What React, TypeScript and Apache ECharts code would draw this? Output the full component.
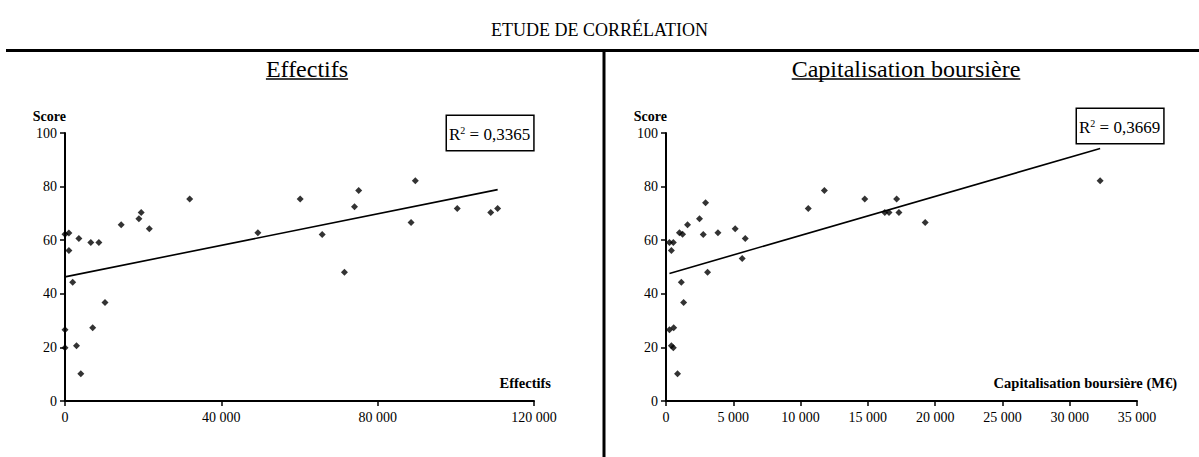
import React, { useEffect, useRef } from "react";
import * as echarts from "echarts";

// Workforce (number of employees) vs score
const effectifsX = [0, 985, 1000, 1970, 3550, 6600, 8670, 10240, 14380, 18900, 19500, 21570, 31900, 49350, 60180, 65800, 71500, 74070, 75150, 88550, 89640, 100370, 108940, 110700, 0, 7090, 0, 2950, 4040];
const effectifsScore = [62.2, 62.7, 56.2, 44.3, 60.6, 59.1, 59.1, 36.8, 65.8, 68.0, 70.3, 64.3, 75.4, 62.8, 75.4, 62.1, 48.0, 72.5, 78.5, 66.6, 82.2, 71.8, 70.3, 71.8, 26.6, 27.3, 19.9, 20.6, 10.2];

// Market capitalisation (M€) vs score
const capitalisationX = [257, 543, 400, 1000, 1230, 1140, 1310, 1600, 2490, 2770, 2940, 3090, 3860, 5140, 5660, 5890, 10570, 11770, 14770, 16260, 16570, 17140, 17310, 19260, 32260, 257, 570, 400, 543, 857];
const capitalisationScore = [59.1, 59.1, 56.2, 62.8, 62.2, 44.3, 36.8, 65.8, 68.0, 62.1, 74.0, 48.0, 62.8, 64.3, 53.2, 60.6, 71.8, 78.5, 75.4, 70.3, 70.3, 75.4, 70.3, 66.6, 82.2, 26.6, 27.3, 20.6, 19.9, 10.2];

const r2Labels = ["0,3365", "0,3669"];
const panelTitles = ["Effectifs", "Capitalisation boursière"];
const xAxisNames = ["Effectifs", "Capitalisation boursière (M€)"];
const yAxisName = "Score";
const mainTitle = "ETUDE DE CORRÉLATION";

const FONT = "'Liberation Serif', 'Times New Roman', serif";

// Least-squares line spanning the data's x range
function trendLine(xs: number[], ys: number[]): number[][] {
  const n = xs.length;
  const mx = xs.reduce((a, b) => a + b, 0) / n;
  const my = ys.reduce((a, b) => a + b, 0) / n;
  let sxy = 0;
  let sxx = 0;
  for (let i = 0; i < n; i++) {
    sxy += (xs[i] - mx) * (ys[i] - my);
    sxx += (xs[i] - mx) * (xs[i] - mx);
  }
  const slope = sxy / sxx;
  const intercept = my - slope * mx;
  const x0 = Math.min(...xs);
  const x1 = Math.max(...xs);
  return [
    [x0, intercept + slope * x0],
    [x1, intercept + slope * x1],
  ];
}

const thousands = (v: number) => String(v).replace(/\B(?=(\d{3})+(?!\d))/g, " ");

function textWidth(text: string, font: string): number {
  const ctx = document.createElement("canvas").getContext("2d");
  if (!ctx) return text.length * 9;
  ctx.font = font;
  return ctx.measureText(text).width;
}

export default function App() {
  const ref = useRef<HTMLDivElement>(null);

  useEffect(() => {
    if (!ref.current) return;
    const chart = echarts.init(ref.current, undefined, { renderer: "svg" });

    const pairs = (xs: number[], ys: number[]) => xs.map((x, i) => [x, ys[i]]);

    const grids = [
      { left: 65, top: 133, width: 469, height: 268 },
      { left: 666, top: 133, width: 471, height: 268 },
    ];
    const xMax = [120000, 35000];
    const xInterval = [40000, 5000];

    const yAxes = grids.map((_, i) => ({
      type: "value",
      gridIndex: i,
      min: 0,
      max: 100,
      interval: 20,
      name: yAxisName,
      nameLocation: "end",
      nameGap: 17,
      nameTextStyle: {
        fontFamily: FONT,
        fontWeight: "bold",
        fontSize: 14,
        color: "#000",
        align: "right",
        verticalAlign: "middle",
        padding: [0, -1, 0, 0],
      },
      axisLine: { show: true, lineStyle: { color: "#000", width: 2 } },
      axisTick: { show: true, length: 5, lineStyle: { color: "#000", width: 1.5 } },
      axisLabel: { color: "#000", fontFamily: FONT, fontSize: 14, margin: 8 },
      splitLine: { show: false },
    }));

    const xAxes = grids.map((_, i) => ({
      type: "value",
      gridIndex: i,
      min: 0,
      max: xMax[i],
      interval: xInterval[i],
      axisLine: { show: true, onZero: false, lineStyle: { color: "#000", width: 2 } },
      axisTick: { show: true, length: 5, lineStyle: { color: "#000", width: 1.5 } },
      axisLabel: { color: "#000", fontFamily: FONT, fontSize: 14, margin: 9, formatter: thousands },
      splitLine: { show: false },
    }));

    const scatterStyle = {
      type: "scatter",
      symbol: "diamond",
      symbolSize: 7,
      itemStyle: { color: "#000" },
    };
    const lineStyle = {
      type: "line",
      showSymbol: false,
      symbol: "none",
      lineStyle: { color: "#000", width: 1.6 },
    };

    const series = [
      { ...scatterStyle, xAxisIndex: 0, yAxisIndex: 0, data: pairs(effectifsX, effectifsScore) },
      { ...lineStyle, xAxisIndex: 0, yAxisIndex: 0, data: trendLine(effectifsX, effectifsScore) },
      { ...scatterStyle, xAxisIndex: 1, yAxisIndex: 1, data: pairs(capitalisationX, capitalisationScore) },
      { ...lineStyle, xAxisIndex: 1, yAxisIndex: 1, data: trendLine(capitalisationX, capitalisationScore) },
    ];

    const titleFont = `24px ${FONT}`;
    const titleCenters = [307, 906];
    const titleY = 69;

    const graphic: any[] = [
      // frame rules
      { type: "line", shape: { x1: 6, y1: 50.5, x2: 1199, y2: 50.5 }, style: { stroke: "#000", lineWidth: 3 } },
      { type: "line", shape: { x1: 604, y1: 50, x2: 604, y2: 457 }, style: { stroke: "#000", lineWidth: 3 } },
    ];

    panelTitles.forEach((t, i) => {
      const w = textWidth(t, titleFont);
      graphic.push({
        type: "text",
        x: titleCenters[i],
        y: titleY,
        style: { text: t, font: titleFont, fill: "#000", align: "center", verticalAlign: "middle" },
      });
      graphic.push({
        type: "line",
        shape: { x1: titleCenters[i] - w / 2, y1: titleY + 10, x2: titleCenters[i] + w / 2, y2: titleY + 10 },
        style: { stroke: "#000", lineWidth: 1.3 },
      });
    });

    const axisNameX = [551, 1177];
    xAxisNames.forEach((t, i) => {
      graphic.push({
        type: "text",
        x: axisNameX[i],
        y: 383,
        style: {
          text: t,
          fontFamily: FONT,
          fontWeight: "bold",
          fontSize: 14.5,
          fill: "#000",
          align: "right",
          verticalAlign: "middle",
        },
      });
    });

    const r2Pos = [
      [447, 116],
      [1077, 109],
    ];
    r2Labels.forEach((v, i) => {
      graphic.push({
        type: "text",
        x: r2Pos[i][0],
        y: r2Pos[i][1],
        style: {
          text: `R{s|2} = ${v}`,
          fontFamily: FONT,
          fontSize: 17,
          fill: "#000",
          backgroundColor: "#fff",
          borderColor: "#000",
          borderWidth: 1.5,
          padding: [9, 3, 7, 2],
          rich: {
            s: { fontFamily: FONT, fontSize: 10, verticalAlign: "top", padding: [0, 0, 8, 0] },
          },
        },
      });
    });

    chart.setOption({
      animation: false,
      backgroundColor: "#fff",
      title: {
        text: mainTitle,
        left: "center",
        top: 16,
        textStyle: { fontFamily: FONT, fontSize: 18, fontWeight: "normal", color: "#000" },
      },
      grid: grids.map((g) => ({ ...g, containLabel: false, outerBoundsMode: "none" })),
      xAxis: xAxes,
      yAxis: yAxes,
      series,
      graphic,
    });

    return () => chart.dispose();
  }, []);

  return <div ref={ref} style={{ position: "absolute", left: 0, top: 0, width: 1199, height: 457 }} />;
}
